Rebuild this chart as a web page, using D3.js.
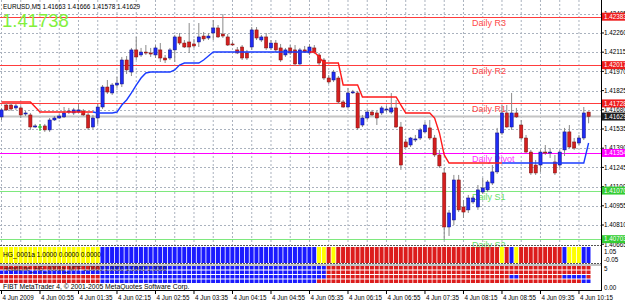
<!DOCTYPE html>
<html>
<head>
<meta charset="utf-8">
<script src="https://cdn.jsdelivr.net/npm/d3@7"></script>
<style>
  body { margin: 0; background: #fff; }
  svg { display: block; font-family: "Liberation Sans", Arial, sans-serif; }
</style>
</head>
<body>
<div class="chart"></div>
<script>
// EURUSD M5, 4 Jun 2009, bars from 00:15 to 10:25
const open = [
  1.41626, 1.41716, 1.41716, 1.41694, 1.41694, 1.41648, 1.41641, 1.41550, 1.41550, 1.41558,
  1.41528, 1.41603, 1.41618, 1.41626, 1.41663, 1.41656, 1.41663, 1.41671, 1.41641, 1.41550,
  1.41618, 1.41701, 1.41852, 1.41807, 1.41867, 1.41875, 1.42056, 1.41965, 1.42132, 1.42094,
  1.42116, 1.42109, 1.42094, 1.42132, 1.42071, 1.42071, 1.42132, 1.42230, 1.42184, 1.42192,
  1.42177, 1.42192, 1.42237, 1.42222, 1.42260, 1.42298, 1.42252, 1.42230, 1.42177, 1.42132,
  1.42154, 1.42109, 1.42154, 1.42283, 1.42207, 1.42230, 1.42147, 1.42184, 1.42147, 1.42094,
  1.42147, 1.42132, 1.42026, 1.42132, 1.42109, 1.42147, 1.42094, 1.42056, 1.41920, 1.41905,
  1.41920, 1.41739, 1.41701, 1.41814, 1.41807, 1.41565, 1.41618, 1.41663, 1.41656, 1.41656,
  1.41679, 1.41663, 1.41694, 1.41550, 1.41437, 1.41414, 1.41452, 1.41467, 1.41513, 1.41543,
  1.41467, 1.41339, 1.41203, 1.40795, 1.40848, 1.41150, 1.40946, 1.40924, 1.40984, 1.40946,
  1.41059, 1.41075, 1.41127, 1.41211, 1.41505, 1.41656, 1.41550, 1.41656, 1.41565, 1.41467,
  1.41361, 1.41263, 1.41263, 1.41361, 1.41354, 1.41286, 1.41263, 1.41377, 1.41513, 1.41437,
  1.41429, 1.41467, 1.41663
];
const high = [
  1.41694, 1.41731, 1.41731, 1.41724, 1.41709, 1.41671, 1.41656, 1.41573, 1.41573, 1.41573,
  1.41618, 1.41633, 1.41648, 1.41701, 1.41694, 1.41694, 1.41724, 1.41686, 1.41656, 1.41641,
  1.41724, 1.41867, 1.41905, 1.41882, 1.41928, 1.42079, 1.42086, 1.42147, 1.42230, 1.42147,
  1.42169, 1.42147, 1.42169, 1.42184, 1.42094, 1.42147, 1.42245, 1.42260, 1.42207, 1.42335,
  1.42215, 1.42335, 1.42267, 1.42260, 1.42358, 1.42320, 1.42403, 1.42252, 1.42192, 1.42154,
  1.42169, 1.42132, 1.42305, 1.42305, 1.42245, 1.42260, 1.42207, 1.42207, 1.42177, 1.42147,
  1.42169, 1.42169, 1.42147, 1.42162, 1.42177, 1.42169, 1.42109, 1.42071, 1.41943, 1.41981,
  1.41935, 1.41754, 1.41845, 1.41830, 1.41822, 1.41641, 1.41679, 1.41679, 1.41671, 1.41709,
  1.41709, 1.41807, 1.41754, 1.41588, 1.41460, 1.41475, 1.41490, 1.41543, 1.41588, 1.41603,
  1.41490, 1.41377, 1.41241, 1.40924, 1.41188, 1.41188, 1.40999, 1.41037, 1.41029, 1.41112,
  1.41165, 1.41150, 1.41263, 1.41543, 1.41716, 1.41716, 1.41807, 1.41694, 1.41603, 1.41490,
  1.41377, 1.41301, 1.41377, 1.41414, 1.41391, 1.41339, 1.41377, 1.41543, 1.41565, 1.41467,
  1.41490, 1.41701, 1.41666
];
const low = [
  1.41603, 1.41671, 1.41671, 1.41679, 1.41618, 1.41633, 1.41528, 1.41543, 1.41520, 1.41513,
  1.41513, 1.41596, 1.41611, 1.41618, 1.41648, 1.41641, 1.41656, 1.41633, 1.41528, 1.41535,
  1.41573, 1.41686, 1.41799, 1.41792, 1.41845, 1.41852, 1.41950, 1.41935, 1.42056, 1.42079,
  1.42094, 1.42079, 1.42071, 1.42041, 1.42033, 1.42056, 1.42041, 1.42169, 1.42147, 1.42109,
  1.42147, 1.42154, 1.42199, 1.42207, 1.42207, 1.42222, 1.42222, 1.42162, 1.42162, 1.42101,
  1.42056, 1.42056, 1.42132, 1.42207, 1.42192, 1.42132, 1.42132, 1.42116, 1.42041, 1.42079,
  1.42094, 1.42011, 1.42011, 1.42109, 1.42094, 1.42101, 1.42018, 1.41905, 1.41875, 1.41890,
  1.41724, 1.41694, 1.41694, 1.41799, 1.41528, 1.41550, 1.41603, 1.41633, 1.41565, 1.41641,
  1.41663, 1.41648, 1.41543, 1.41226, 1.41391, 1.41399, 1.41437, 1.41452, 1.41505, 1.41452,
  1.41324, 1.41241, 1.40697, 1.40727, 1.40810, 1.40908, 1.40863, 1.40901, 1.40969, 1.40924,
  1.41044, 1.41059, 1.41112, 1.41196, 1.41490, 1.41543, 1.41528, 1.41618, 1.41452, 1.41354,
  1.41188, 1.41188, 1.41211, 1.41339, 1.41316, 1.41188, 1.41241, 1.41331, 1.41391, 1.41377,
  1.41414, 1.41452, 1.41578
];
const close = [
  1.41679, 1.41679, 1.41686, 1.41709, 1.41641, 1.41656, 1.41550, 1.41558, 1.41550, 1.41528,
  1.41603, 1.41618, 1.41633, 1.41656, 1.41671, 1.41679, 1.41679, 1.41641, 1.41543, 1.41618,
  1.41701, 1.41852, 1.41814, 1.41867, 1.41882, 1.42056, 1.41981, 1.42132, 1.42079, 1.42116,
  1.42109, 1.42101, 1.42147, 1.42071, 1.42056, 1.42132, 1.42230, 1.42184, 1.42154, 1.42154,
  1.42162, 1.42230, 1.42215, 1.42237, 1.42298, 1.42230, 1.42237, 1.42169, 1.42176, 1.42109,
  1.42071, 1.42071, 1.42283, 1.42222, 1.42230, 1.42147, 1.42184, 1.42132, 1.42056, 1.42132,
  1.42109, 1.42026, 1.42132, 1.42116, 1.42154, 1.42116, 1.42033, 1.41920, 1.41890, 1.41965,
  1.41739, 1.41701, 1.41807, 1.41815, 1.41543, 1.41618, 1.41663, 1.41641, 1.41618, 1.41694,
  1.41686, 1.41694, 1.41550, 1.41263, 1.41399, 1.41467, 1.41460, 1.41528, 1.41565, 1.41467,
  1.41339, 1.41256, 1.40795, 1.40901, 1.41150, 1.40924, 1.40908, 1.41014, 1.41014, 1.41075,
  1.41090, 1.41135, 1.41211, 1.41505, 1.41656, 1.41550, 1.41656, 1.41626, 1.41467, 1.41361,
  1.41203, 1.41203, 1.41361, 1.41354, 1.41361, 1.41203, 1.41361, 1.41513, 1.41399, 1.41391,
  1.41467, 1.41656, 1.41629
];

// trailing stop line and its direction runs (D = down/red, U = up/blue)
const trail = [
  1.41739, 1.41739, 1.41739, 1.41739, 1.41739, 1.41739, 1.41739, 1.41701, 1.41663, 1.41663,
  1.41663, 1.41663, 1.41663, 1.41663, 1.41663, 1.41663, 1.41663, 1.41663, 1.41663, 1.41663,
  1.41656, 1.41656, 1.41656, 1.41656, 1.41663, 1.41716, 1.41754, 1.41807, 1.41867, 1.41920,
  1.41958, 1.41965, 1.41965, 1.41965, 1.41965, 1.41965, 1.41981, 1.42018, 1.42033, 1.42033,
  1.42033, 1.42033, 1.42056, 1.42086, 1.42116, 1.42116, 1.42116, 1.42116, 1.42116, 1.42116,
  1.42116, 1.42116, 1.42116, 1.42116, 1.42116, 1.42116, 1.42116, 1.42116, 1.42116, 1.42116,
  1.42116, 1.42116, 1.42116, 1.42116, 1.42116, 1.42116, 1.42079, 1.42033, 1.42033, 1.42033,
  1.42033, 1.41867, 1.41867, 1.41867, 1.41867, 1.41777, 1.41777, 1.41777, 1.41777, 1.41777,
  1.41777, 1.41777, 1.41777, 1.41716, 1.41656, 1.41656, 1.41656, 1.41656, 1.41656, 1.41656,
  1.41618, 1.41505, 1.41339, 1.41278, 1.41278, 1.41278, 1.41278, 1.41278, 1.41278, 1.41278,
  1.41278, 1.41278, 1.41278, 1.41278, 1.41278, 1.41278, 1.41278, 1.41278, 1.41278, 1.41278,
  1.41278, 1.41278, 1.41278, 1.41278, 1.41278, 1.41278, 1.41278, 1.41278, 1.41278, 1.41278,
  1.41278, 1.41278, 1.41429
];
const trailRuns = [["D", 20], ["U", 45], ["D", 40], ["U", 18]];

// daily pivot levels
const levelNames = ["Daily R3", "Daily R2", "Daily R1", "Daily Pivot", "Daily S1", "Daily S2"];
const levelValues = [1.42383, 1.42017, 1.41728, 1.41354, 1.41070, 1.40703];

// right axis ticks
const priceTicks = [1.42405, 1.42260, 1.42115, 1.41970, 1.41825, 1.41680, 1.41535,
  1.41390, 1.41245, 1.41100, 1.40955, 1.40810, 1.40665];

// time axis
const tickBars = [0, 8, 16, 24, 32, 40, 48, 56, 64, 72, 80, 88, 96, 104, 112, 120];
const tickLabels = ["4 Jun 2009", "4 Jun 00:55", "4 Jun 01:35", "4 Jun 02:15", "4 Jun 02:55",
  "4 Jun 03:35", "4 Jun 04:15", "4 Jun 04:55", "4 Jun 05:35", "4 Jun 06:15", "4 Jun 06:55",
  "4 Jun 07:35", "4 Jun 08:15", "4 Jun 08:55", "4 Jun 09:35", "4 Jun 10:15"];

// indicator states (Y yellow, B blue, R red), as runs of bars
const hgRuns = [["Y", 21], ["B", 45], ["Y", 2], ["R", 1], ["Y", 1], ["R", 34], ["Y", 1], ["R", 1],
  ["B", 1], ["Y", 1], ["R", 9], ["B", 1], ["Y", 3], ["B", 2]];
const mtfRow1 = [["R", 21], ["B", 47], ["R", 55]];
const mtfRow2 = [["B", 68], ["R", 55]];
const mtfRow3 = [["R", 21], ["B", 47], ["R", 38], ["B", 2], ["R", 9], ["B", 5], ["R", 1]];
const mtfRow4 = [["R", 21], ["B", 45], ["R", 55], ["B", 2]];

const expand = runs => runs.flatMap(([s, n]) => Array(n).fill(s));

const W = 625, H = 302, plotR = 601, mainB = 245;
const cellColor = { Y: "#ffff00", B: "#1a1aff", R: "#dc1c1c" };
const levelColor = ["#ff3c3c", "#ff3c3c", "#ff3c3c", "#ff00ff", "#7ee87e", "#7ee87e"];
const levelText = ["#ff4a4a", "#ff4a4a", "#ff4a4a", "#ff33ff", "#66e066", "#66e066"];
const levelBox = ["#ee1c1c", "#ee1c1c", "#ee1c1c", "#ff00ff", "#33cc33", "#33cc33"];

const svg = d3.select(".chart").append("svg").attr("width", W).attr("height", H);

const x = d3.scaleLinear().domain([0, 122]).range([1.5, 588.6]);
const y = d3.scaleLinear().domain([1.40659, 1.42509]).range([mainB, 0]);
const bars = d3.range(open.length);

// grid
const grid = svg.append("g").attr("stroke", "#aab2be").attr("stroke-dasharray", "2,2");
grid.selectAll(".gv").data(d3.range(0, 123, 4)).enter().append("line")
  .attr("x1", d => x(d)).attr("x2", d => x(d)).attr("y1", 0).attr("y2", mainB);
grid.selectAll(".gh").data(priceTicks.slice(0, -1)).enter().append("line")
  .attr("x1", 0).attr("x2", plotR).attr("y1", d => Math.round(y(d)) + 0.5).attr("y2", d => Math.round(y(d)) + 0.5);

// bid line
const bid = close[close.length - 1];
svg.append("line").attr("x1", 0).attr("x2", plotR)
  .attr("y1", y(bid)).attr("y2", y(bid)).attr("stroke", "#c4c4c4").attr("stroke-width", 2);

// pivot lines
svg.append("g").selectAll("line").data(levelValues).enter().append("line")
  .attr("x1", 0).attr("x2", plotR)
  .attr("y1", d => Math.round(y(d)) + 0.5).attr("y2", d => Math.round(y(d)) + 0.5)
  .attr("stroke", (d, i) => levelColor[i]).attr("stroke-width", 1);

svg.append("g").selectAll("text").data(levelNames).enter().append("text")
  .attr("x", 472).attr("y", (d, i) => y(levelValues[i]) + 9)
  .attr("font-size", 9).attr("fill", (d, i) => levelText[i]).text(d => d);

// candles
const candles = svg.append("g");
candles.selectAll("line").data(bars).enter().append("line")
  .attr("x1", i => x(i)).attr("x2", i => x(i))
  .attr("y1", i => y(high[i])).attr("y2", i => y(low[i]))
  .attr("stroke", i => open[i] === close[i] ? "#00c000" : "#8a8a8a");
candles.selectAll("rect").data(bars.filter(i => open[i] !== close[i])).enter().append("rect")
  .attr("x", i => x(i) - 1.6).attr("width", 3.2)
  .attr("y", i => y(Math.max(open[i], close[i])))
  .attr("height", i => Math.max(1, Math.abs(y(open[i]) - y(close[i]))))
  .attr("fill", i => close[i] > open[i] ? "#1f2cf5" : "#d41f1f")
  .attr("stroke", i => close[i] > open[i] ? "#10107a" : "#7a1010")
  .attr("stroke-width", 0.5);
candles.selectAll(".doji").data(bars.filter(i => open[i] === close[i])).enter().append("line")
  .attr("x1", i => x(i) - 2).attr("x2", i => x(i) + 2)
  .attr("y1", i => y(open[i])).attr("y2", i => y(open[i]))
  .attr("stroke", "#00c000");

// trailing line
const line = d3.line().x(i => x(i)).y(i => y(trail[i]));
let start = 0;
trailRuns.forEach(([s, n]) => {
  const idx = d3.range(Math.max(0, start - 1), start + n);
  svg.append("path").attr("d", line(idx)).attr("fill", "none")
    .attr("stroke", s === "D" ? "#ff1a1a" : "#1a3cff").attr("stroke-width", 1.4);
  start += n;
});

// header texts
svg.append("text").attr("x", 3).attr("y", 8.5).attr("font-size", 6.4).attr("fill", "#000")
  .text("EURUSD,M5  1.41663 1.41666 1.41578 1.41629");
svg.append("text").attr("x", 2).attr("y", 27).attr("font-size", 18.5).attr("fill", "#82f03c")
  .text("1.41738");

// window separators
svg.append("line").attr("x1", 0).attr("x2", plotR).attr("y1", mainB + 0.5).attr("y2", mainB + 0.5)
  .attr("stroke", "#555").attr("stroke-dasharray", "2,1");

// indicator window 1
const hg = expand(hgRuns);
const w1Top = 247, w1Bot = 263;
svg.append("g").selectAll("rect").data(bars).enter().append("rect")
  .attr("x", i => x(i) - 2.1).attr("width", 4)
  .attr("y", w1Top).attr("height", w1Bot - w1Top)
  .attr("fill", i => cellColor[hg[i]]);
svg.append("text").attr("x", 3).attr("y", 257).attr("font-size", 6.6).attr("fill", "#000")
  .text("HG_0001a 1.0000 0.0000 0.0000");
svg.append("line").attr("x1", 0).attr("x2", plotR).attr("y1", 263.5).attr("y2", 263.5)
  .attr("stroke", "#555").attr("stroke-dasharray", "2,1");
svg.append("line").attr("x1", 0).attr("x2", plotR).attr("y1", 265).attr("y2", 265)
  .attr("stroke", "#888");

// indicator window 2
const rows = [mtfRow1, mtfRow2, mtfRow3, mtfRow4].map(expand);
const rowY = d3.scaleBand().domain([0, 1, 2, 3]).range([266, 283]).paddingInner(0.22);
rows.forEach((row, r) => {
  svg.append("g").selectAll("rect").data(bars).enter().append("rect")
    .attr("x", i => x(i) - 2.1).attr("width", 4)
    .attr("y", rowY(r)).attr("height", rowY.bandwidth())
    .attr("fill", i => cellColor[row[i]]);
});
svg.append("text").attr("x", 3).attr("y", 271).attr("font-size", 6.4).attr("fill", "#202020")
  .attr("opacity", 0.85).text("HeadLine_HG_0001a_MTF 1.0000 1.0000 1.0000 1.0000");
svg.append("text").attr("x", 3).attr("y", 289).attr("font-size", 6.8).attr("fill", "#000")
  .text("FIBT MetaTrader 4, © 2001-2005 MetaQuotes Software Corp.");

// axes frame
svg.append("line").attr("x1", plotR + 0.5).attr("x2", plotR + 0.5).attr("y1", 0).attr("y2", 291)
  .attr("stroke", "#000");
svg.append("line").attr("x1", 0).attr("x2", plotR + 1).attr("y1", 290.5).attr("y2", 290.5)
  .attr("stroke", "#000");

// time axis
const tAxis = svg.append("g");
tAxis.selectAll("line").data(tickBars).enter().append("line")
  .attr("x1", d => x(d)).attr("x2", d => x(d)).attr("y1", 290).attr("y2", 294)
  .attr("stroke", "#000");
tAxis.selectAll("text").data(tickBars).enter().append("text")
  .attr("x", d => x(d) + 1).attr("y", 300).attr("font-size", 6.3).attr("fill", "#000")
  .text((d, i) => tickLabels[i]);

// price axis
const pAxis = svg.append("g");
pAxis.selectAll("line").data(priceTicks).enter().append("line")
  .attr("x1", plotR).attr("x2", plotR + 3).attr("y1", d => y(d)).attr("y2", d => y(d))
  .attr("stroke", "#000");
pAxis.selectAll("text").data(priceTicks).enter().append("text")
  .attr("x", 604).attr("y", d => y(d) + 2.3).attr("font-size", 6.3).attr("fill", "#000")
  .text(d => d.toFixed(5));

// value boxes for levels and bid
const boxes = levelValues.map((v, i) => ({ v, fill: levelBox[i] }))
  .concat([{ v: bid, fill: "#1c1c1c" }]);
const bx = svg.append("g").selectAll("g").data(boxes).enter().append("g")
  .attr("transform", d => `translate(602,${y(d.v)})`);
bx.append("rect").attr("x", 0).attr("y", -4).attr("width", 24).attr("height", 8)
  .attr("fill", d => d.fill);
bx.append("text").attr("x", 2).attr("y", 2.3).attr("font-size", 6.3).attr("fill", "#fff")
  .text(d => d.v.toFixed(5));

// sub-window scales
const subLabels = [["1.05", 251.5], ["-0.05", 259.5], ["5", 268.5], ["0.00", 288]];
svg.append("g").selectAll("text").data(subLabels).enter().append("text")
  .attr("x", 604).attr("y", d => d[1] + 2).attr("font-size", 6.3).attr("fill", "#000")
  .text(d => d[0]);
</script>
</body>
</html>
